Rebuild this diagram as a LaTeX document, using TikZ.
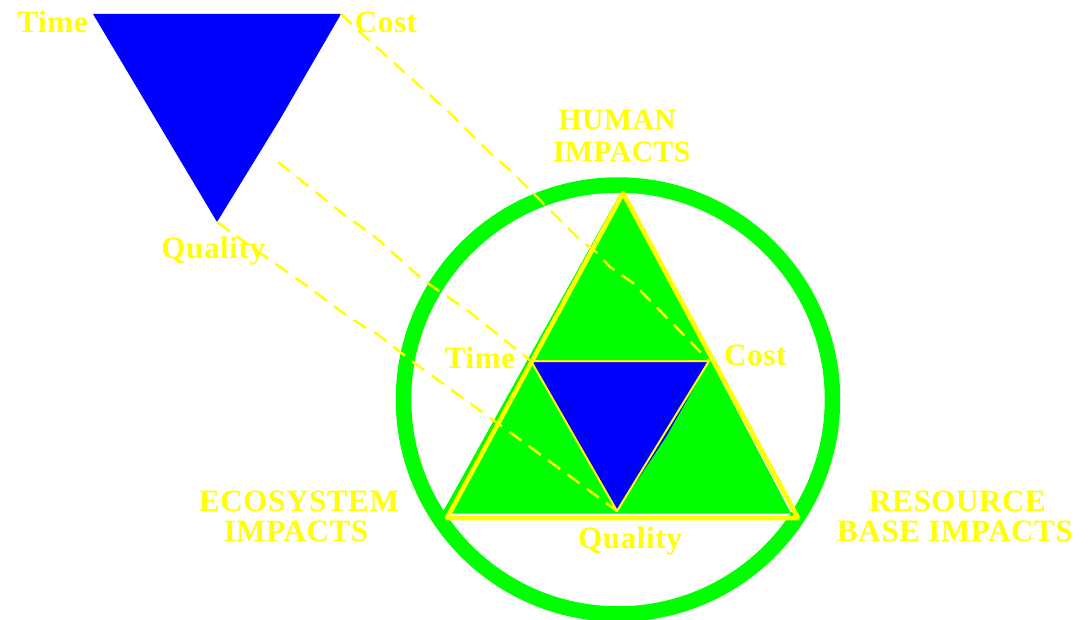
\documentclass[tikz,border=0pt]{standalone}
\usepackage{fontspec}
\setmainfont{Liberation Serif}[LetterSpace=2]
\definecolor{ygold}{RGB}{255,255,0}
\definecolor{ggreen}{RGB}{0,255,0}
\definecolor{bblue}{RGB}{0,0,255}
\begin{document}
\begin{tikzpicture}[x=1pt,y=-1pt,
  lbl/.style={text=ygold,font=\fontsize{31}{31}\selectfont\bfseries,anchor=base,inner sep=0pt},
  hlbl/.style={text=ygold,font=\fontsize{29.5}{29.5}\selectfont\bfseries,anchor=base,inner sep=0pt},
  dashline/.style={draw=ygold,line width=2.4pt,dash pattern=on 15pt off 9pt,line join=round},
  yedge/.style={draw=ygold,line width=4.6pt,line join=round},
  ythin/.style={draw=ygold,line width=2pt,line join=round}]
\useasboundingbox (0,0) rectangle (1089,620);
\fill[white] (0,0) rectangle (1089,620);
% coordinates
\coordinate (TLtime) at (93,14);
\coordinate (TLcost) at (341,14);
\coordinate (TLkink) at (279,121);
\coordinate (TLqual) at (217,222);
\coordinate (TLside) at (278,162);
\coordinate (Itime) at (531,361);
\coordinate (Icost) at (709,361);
\coordinate (Ikink) at (666,437);
\coordinate (Iqual) at (617,511);
\coordinate (Bapex) at (623,193);
\coordinate (Bleft) at (447,518);
\coordinate (Bright) at (798,518);
\coordinate (Gapex) at (621.5,191);
\coordinate (Gleft) at (442,513.5);
\coordinate (Gright) at (791,513.5);
\coordinate (Cc) at (618,399.5);
% ring
\draw[ggreen,line width=15.5pt] (Cc) circle[radius=214.5];
% green triangle
\fill[ggreen] (Gapex) -- (Gleft) -- (Gright) -- cycle;
% inner blue
\fill[bblue] (Itime) -- (Icost) -- (Ikink) -- (Iqual) -- cycle;
% yellow outlines
\draw[yedge] (Bapex) -- (Bleft) -- (Bright) -- cycle;
\draw[ythin] (Itime) -- (Icost) -- (Iqual) -- cycle;
% top-left triangle
\fill[bblue] (TLtime) -- (TLcost) -- (TLkink) -- (TLqual) -- cycle;
% dashed connectors
\draw[dashline] (TLcost) -- (362,34) -- (452,115) -- (492,155) -- (510,170) -- (580,240) -- (595,251) -- (610,267) -- (633,283) -- (Icost);
\draw[dashline] (TLside) -- (347,217) -- (373,235) -- (423,280) -- (467,310) -- (517,350) -- (Itime);
\draw[dashline] (TLqual) -- (260,253) -- (303,283) -- (350,318) -- (377,334) -- (413,362) -- (507,430) -- (Iqual);
% labels
\node[lbl] (ltime) at (52.5,32.3) {Time};
\node[lbl] (lcost) at (386,32.3) {Cost};
\node[lbl] (lqual) at (213.3,259) {Quality};
\node[hlbl] (lhuman) at (617.2,129.3) {HUMAN};
\node[hlbl] (lhimp) at (621.7,161.7) {IMPACTS};
\node[lbl] (itime) at (480,368.3) {Time};
\node[lbl] (icost) at (755.3,365) {Cost};
\node[lbl] (iqual) at (630,548.3) {Quality};
\node[lbl] (leco) at (299,511.7) {ECOSYSTEM};
\node[lbl] (lecoimp) at (296,541.7) {IMPACTS};
\node[lbl] (lres) at (957.5,511.7) {RESOURCE};
\node[lbl] (lresimp) at (955,541.7) {BASE IMPACTS};
\end{tikzpicture}
\end{document}
